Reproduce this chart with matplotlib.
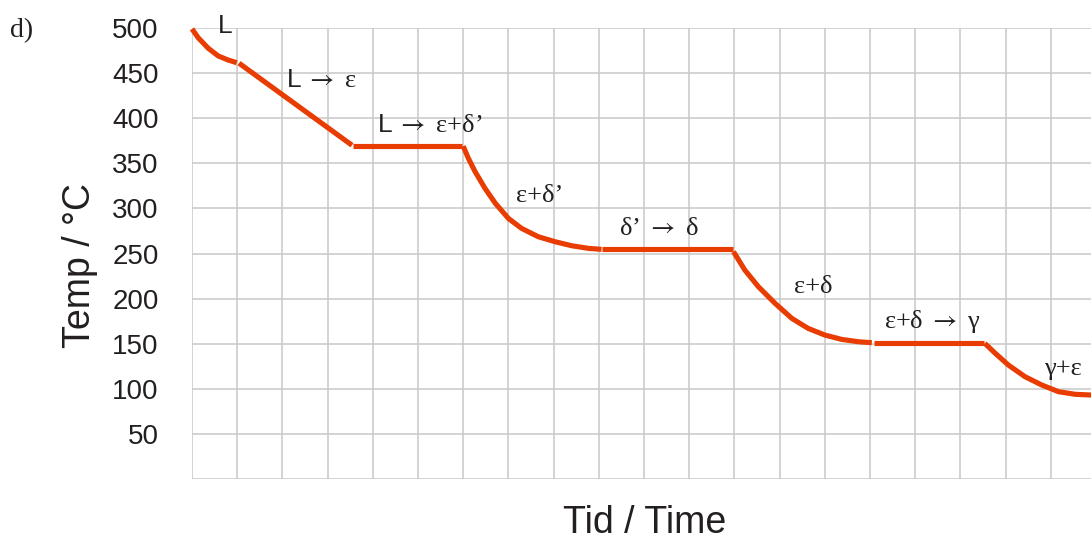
import matplotlib
matplotlib.use("Agg")
import matplotlib.pyplot as plt

plt.rcParams["mathtext.fontset"] = "stix"

# ---- data (time in grid units, temperature in °C) ----
liq_t = [0.0, 0.14, 0.36, 0.58, 0.80, 0.99]
liq_T = [499, 489, 477.5, 469, 464.5, 461.5]

l_eps_t = [1.04, 3.54]
l_eps_T = [461, 370]

plat1_t = [3.56, 5.98]
plat1_T = [369, 369]

eps_d1_t = [6.00, 6.11, 6.26, 6.48, 6.71, 7.00, 7.29, 7.66, 8.03, 8.40, 8.77, 9.06]
eps_d1_T = [369, 356, 341, 322.4, 305.7, 288.9, 277.9, 268.6, 263.1, 258.6, 255.7, 254.6]

plat2_t = [9.06, 11.96]
plat2_T = [254.6, 254.6]

eps_d_t = [11.98, 12.23, 12.53, 12.90, 13.27, 13.63, 14.00, 14.37, 14.74, 15.04]
eps_d_T = [252, 231.7, 213.2, 194.7, 178.1, 167.0, 159.6, 154.8, 152.2, 151.1]

plat3_t = [15.09, 17.52]
plat3_T = [151, 151]

gam_eps_t = [17.54, 17.77, 18.06, 18.43, 18.80, 19.17, 19.54, 19.89]
gam_eps_T = [150.4, 139.4, 126.4, 113.4, 104.2, 96.8, 93.9, 93.1]

segments = [(liq_t, liq_T), (l_eps_t, l_eps_T), (plat1_t, plat1_T),
            (eps_d1_t, eps_d1_T), (plat2_t, plat2_T), (eps_d_t, eps_d_T),
            (plat3_t, plat3_T), (gam_eps_t, gam_eps_T)]

y_ticks = list(range(0, 501, 50))
y_tick_labels = [""] + [str(v) for v in y_ticks[1:]]
x_grid = list(range(0, 20))

W, H = 1091, 542
fig = plt.figure(figsize=(W / 100, H / 100), dpi=100)
left_px, right_px, top_px, bot_px = 192, 1091, 28, 479
ax = fig.add_axes([left_px / W, 1 - bot_px / H, (right_px - left_px) / W, (bot_px - top_px) / H])
xmax = (right_px - left_px) / 45.2
ax.set_xlim(0, xmax)
ax.set_ylim(0, 500)

for s in ax.spines.values():
    s.set_visible(False)

ax.set_xticks(x_grid)
ax.set_xticklabels([])
ax.set_yticks(y_ticks)
ax.set_yticklabels(y_tick_labels, fontsize=20, color="#231f20", family="Liberation Sans")
ax.tick_params(axis="both", length=0)
ax.tick_params(axis="y", pad=24)
ax.grid(True, color="#c8c8c8", linewidth=1.1)
ax.set_axisbelow(True)

red = "#e83c00"
for t, T in segments:
    ax.plot(t, T, color=red, linewidth=3.7, solid_capstyle="butt",
            solid_joinstyle="round", clip_on=False)

# ---- labels ----
def px2data(px, py):
    return (px - left_px) / 45.2, (bot_px - py) / ((bot_px - top_px) / 500)

serif = ["Liberation Serif", "DejaVu Serif"]
sans = ["Liberation Sans", "DejaVu Sans"]
ARW = r"$\rightarrow$"

def put(px, py, s, fam, size=19):
    x, y = px2data(px, py)
    ax.text(x, y, s, family=fam, fontsize=size, color="#231f20",
            ha="left", va="baseline", clip_on=False)

put(218, 33, "L", sans, 19)
put(287, 87, "L", sans, 19)
put(306, 87, ARW + " \u03b5", serif, 19)
put(378, 132, "L", sans, 19)
put(397, 132, ARW + " \u03b5+\u03b4\u2019", serif, 19)
put(516, 202, "\u03b5+\u03b4\u2019", serif, 19)
put(619, 235, "\u03b4\u2019 " + ARW + " \u03b4", serif, 19)
put(794, 293, "\u03b5+\u03b4", serif, 19)
put(884, 328, "\u03b5+\u03b4 " + ARW + " \u03b3", serif, 19)
put(1044, 375, "\u03b3+\u03b5", serif, 19)

fig.text(10 / W, 1 - 37 / H, "d)", family=serif, fontsize=20, color="#231f20",
         ha="left", va="baseline")

fig.text(645 / W, 1 - 523 / H, "Tid / Time", family=sans, fontsize=27,
         color="#231f20", ha="center", va="center")
fig.text(80 / W, 1 - 266 / H, "Temp / \u00b0C", family=sans, fontsize=27,
         color="#231f20", ha="center", va="center", rotation=90)

fig.savefig("out.png", dpi=100)
